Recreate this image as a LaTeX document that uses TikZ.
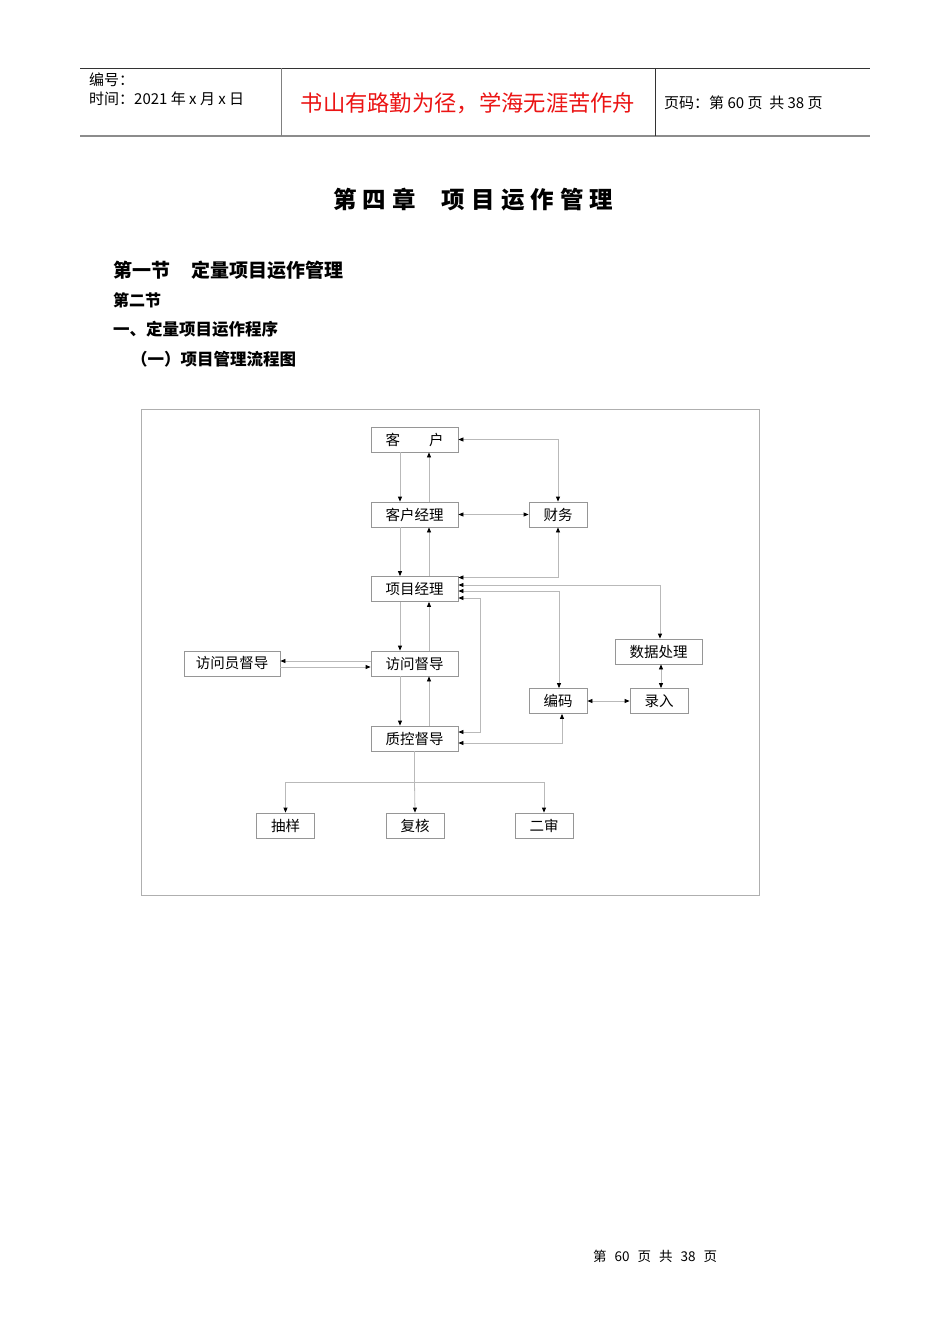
\documentclass[tikz,border=0pt]{standalone}
\usepackage{fontspec}
\setmainfont{Noto Sans CJK SC}
\usepackage{tikz}
\usepackage{xcolor}
\usetikzlibrary{arrows.meta}
\definecolor{linegray}{RGB}{185,185,185}
\definecolor{boxgray}{RGB}{150,150,150}
\definecolor{framegray}{RGB}{175,175,175}
\definecolor{mottored}{RGB}{235,20,20}

\begin{document}
\begin{tikzpicture}[x=1pt,y=-1pt,
  >={Triangle[length=5pt,width=4pt,color=black]},
  txt/.style={anchor=west,inner sep=0pt},
  box/.style={draw=boxgray,line width=0.8pt,minimum height=25pt,minimum width=87pt,inner sep=0pt,font=\fontsize{14.5}{15}\selectfont},
  small/.style={box,minimum width=58pt},
  link/.style={draw=linegray,line width=0.8pt,->},
  both/.style={link,<->}]
\useasboundingbox[fill=white] (0,0) rectangle (950,1344);
%header
\draw[line width=1pt,black!80] (80,68) -- (870,68);
\draw[line width=2pt,black!45] (80,136) -- (870,136);
\draw[line width=1pt,black!50] (281,68) -- (281,136);
\draw[line width=1pt,black!80] (655,68) -- (655,136);
\node[txt,font=\fontsize{15}{15}\selectfont] (bianhao) at (89,80) {编号：};
\node[txt,font=\fontsize{15}{15}\selectfont] (shijian) at (89,99) {时间：2021 年 x 月 x 日};
\node[font=\fontsize{22.3}{23}\selectfont,text=mottored] (motto) at (468,103) {书山有路勤为径，学海无涯苦作舟};
\node[txt,font=\fontsize{15}{15}\selectfont] (yema) at (664,103) {页码：第 60 页 \ 共 38 页};
\node[txt,font=\fontsize{23.5}{24}\bfseries] (title) at (333,200) {\addfontfeature{LetterSpace=26}第四章\hspace{26pt}项目运作管理};
\node[txt,font=\fontsize{19}{19}\bfseries] (jie1) at (113,270) {第一节\hspace{2pt}　定量项目运作管理};
\node[txt,font=\fontsize{16}{16}\bfseries] (jie2) at (113,300) {第二节};
\node[txt,font=\fontsize{16.5}{17}\bfseries] (chengxu) at (113,329) {一、定量项目运作程序};
\node[txt,font=\fontsize{16.5}{17}\bfseries] (liucheng) at (131,359) {（一）项目管理流程图};
\draw[framegray,line width=0.8pt] (141,409) rectangle (759,895);
%boxes
\node[box] (kehu) at (414.5,439.5) {客　　户};
\node[box] (khjl) at (414.5,514.5) {客户经理};
\node[small] (caiwu) at (558,514.5) {财务};
\node[box] (xmjl) at (414.5,589) {项目经理};
\node[box,minimum width=96pt] (fwyd) at (232,663.5) {访问员督导};
\node[box] (fwdd) at (414.5,663.5) {访问督导};
\node[box] (sjcl) at (658.5,651.5) {数据处理};
\node[small] (bianma) at (558,701) {编码};
\node[small] (luru) at (659,701) {录入};
\node[box] (zkdd) at (414.5,738.5) {质控督导};
\node[small] (chouyang) at (285.5,825.5) {抽样};
\node[small] (fuhe) at (415,825.5) {复核};
\node[small] (ershen) at (544,825.5) {二审};
%links
\foreach \a/\b in {kehu/khjl,khjl/xmjl,xmjl/fwdd,fwdd/zkdd} {
  \draw[link] ([xshift=-14.5pt]\a.south) -- ([xshift=-14.5pt]\b.north);
  \draw[link] ([xshift=14.5pt]\b.north) -- ([xshift=14.5pt]\a.south);
}
\draw[both] (kehu.east) -| (caiwu.north);
\draw[both] (khjl.east) -- (caiwu.west);
\draw[both] ([yshift=11.5pt]xmjl.east) -| (caiwu.south);
\draw[both] ([yshift=4pt]xmjl.east) -| ([xshift=1.5pt]sjcl.north);
\draw[both] ([yshift=-2pt]xmjl.east) -| ([xshift=1pt]bianma.north);
\draw[both] ([yshift=-9pt]xmjl.east) -- ++(22,0) |- ([yshift=6.5pt]zkdd.east);
\draw[both] ([xshift=4pt]bianma.south) |- ([yshift=-4.5pt]zkdd.east);
\draw[both] (bianma.east) -- (luru.west);
\draw[both] ([xshift=2.5pt]sjcl.south) -- ([xshift=2pt]luru.north);
\draw[link] ([yshift=2.5pt]fwdd.west) -- ([yshift=2.5pt]fwyd.east);
\draw[link] ([yshift=-3.5pt]fwyd.east) -- ([yshift=-3.5pt]fwdd.west);
\coordinate (fen) at (414.5,782);
\draw[linegray,line width=0.8pt] (zkdd.south) -- (fen);
\draw[link] (fen) -| (chouyang.north);
\draw[link] (fen) -- (fuhe.north);
\draw[link] (fen) -| (ershen.north);
%footer
\node[txt,font=\fontsize{13.5}{14}\selectfont] (foot) at (593,1256) {第\hspace{8pt}60\hspace{8pt}页\hspace{8pt}共\hspace{8pt}38\hspace{8pt}页};
\end{tikzpicture}
\end{document}
